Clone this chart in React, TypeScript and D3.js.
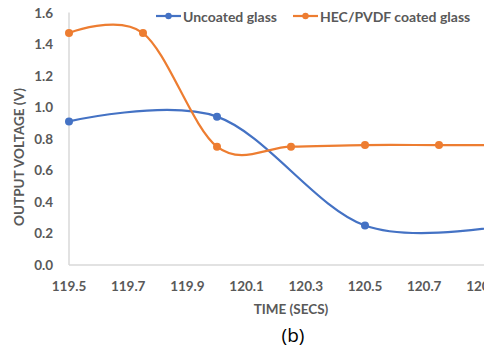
import React from "react";
import * as d3 from "d3";

const uncoatedTime = [119.5, 120.0, 120.5, 121.0];
const uncoatedVoltage = [0.91, 0.94, 0.25, 0.26];
const coatedTime = [119.5, 119.75, 120.0, 120.25, 120.5, 120.75, 121.0];
const coatedVoltage = [1.47, 1.47, 0.75, 0.75, 0.76, 0.76, 0.76];
const xTicks = [119.5, 119.7, 119.9, 120.1, 120.3, 120.5, 120.7, 120.9];
const yTicks = [0, 0.2, 0.4, 0.6, 0.8, 1.0, 1.2, 1.4, 1.6];
const seriesNames = ["Uncoated glass", "HEC/PVDF coated glass"];
const seriesColors = ["#4472C4", "#ED7D31"];

const W = 484;
const H = 347;
const FONT = "Lato, 'Open Sans', sans-serif";
const TXT = "#595959";

export default function App() {
  const x = d3.scaleLinear().domain([119.5, 121.0]).range([69, 513]);
  const y = d3.scaleLinear().domain([0, 1.6]).range([265, 12.5]);
  const line = d3
    .line<[number, number]>()
    .x((d) => x(d[0]))
    .y((d) => y(d[1]))
    .curve(d3.curveCardinal.tension(0));

  const series = [
    uncoatedTime.map((t, i) => [t, uncoatedVoltage[i]] as [number, number]),
    coatedTime.map((t, i) => [t, coatedVoltage[i]] as [number, number]),
  ];

  const legendItems = [
    { x: 156, color: seriesColors[0], name: seriesNames[0] },
    { x: 293, color: seriesColors[1], name: seriesNames[1] },
  ];

  return (
    <svg
      width={W}
      height={H}
      style={{ position: "absolute", left: 0, top: 0, background: "#fff" }}
    >
      <rect x={0} y={0} width={W} height={H} fill="#fff" />
      <line x1={x(119.5)} x2={x(119.5)} y1={y(1.6)} y2={y(0)} stroke="#D9D9D9" strokeWidth={1.5} />
      <line x1={x(119.5)} x2={W + 40} y1={y(0)} y2={y(0)} stroke="#D9D9D9" strokeWidth={1.5} />
      {yTicks.map((v) => (
        <text
          key={v}
          x={53}
          y={y(v)}
          textAnchor="end"
          dominantBaseline="central"
          fontFamily={FONT}
          fontWeight="bold"
          fontSize={13.5}
          fill={TXT}
        >
          {v.toFixed(1)}
        </text>
      ))}
      {xTicks.map((v) => (
        <text
          key={v}
          x={x(v)}
          y={286}
          textAnchor="middle"
          dominantBaseline="central"
          fontFamily={FONT}
          fontWeight="bold"
          fontSize={13.5}
          fill={TXT}
        >
          {v.toFixed(1)}
        </text>
      ))}
      <text
        x={291}
        y={309}
        textAnchor="middle"
        dominantBaseline="central"
        fontFamily={FONT}
        fontWeight="bold"
        fontSize={13.5}
        fill={TXT}
      >
        TIME (SECS)
      </text>
      <text
        transform={`translate(19,157) rotate(-90)`}
        textAnchor="middle"
        dominantBaseline="central"
        fontFamily={FONT}
        fontWeight="bold"
        fontSize={13.5}
        fill={TXT}
      >
        OUTPUT VOLTAGE (V)
      </text>
      <text
        x={293}
        y={335}
        textAnchor="middle"
        dominantBaseline="central"
        fontFamily="'Open Sans', sans-serif"
        fontSize={19}
        fill="#000"
      >
        (b)
      </text>
      {series.map((s, i) => (
        <g key={i}>
          <path d={line(s) || ""} fill="none" stroke={seriesColors[i]} strokeWidth={2.2} />
          {s.map((d, j) => (
            <circle key={j} cx={x(d[0])} cy={y(d[1])} r={4} fill={seriesColors[i]} />
          ))}
        </g>
      ))}
      {legendItems.map((l, i) => (
        <g key={i}>
          <line x1={l.x} x2={l.x + 25} y1={16} y2={16} stroke={l.color} strokeWidth={2.2} />
          <circle cx={l.x + 12.5} cy={16} r={3.2} fill={l.color} />
          <text
            x={l.x + 27}
            y={16}
            dominantBaseline="central"
            fontFamily={FONT}
            fontWeight="bold"
            fontSize={14}
            fill={TXT}
          >
            {l.name}
          </text>
        </g>
      ))}
    </svg>
  );
}
